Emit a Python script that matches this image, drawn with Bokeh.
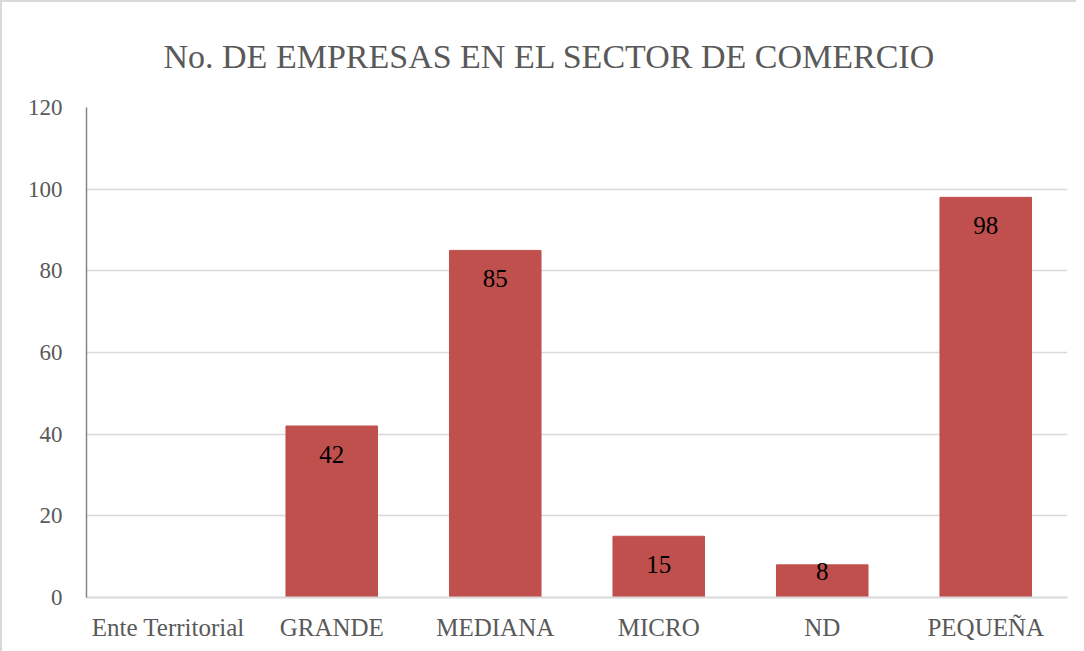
from bokeh.plotting import figure
from bokeh.models import ColumnDataSource, Range1d, FixedTicker, LabelSet
from bokeh.embed import file_html
from bokeh.resources import INLINE

categories = ["Ente Territorial", "GRANDE", "MEDIANA", "MICRO", "ND", "PEQUEÑA"]
values = [0, 42, 85, 15, 8, 98]
y_ticks = [0, 20, 40, 60, 80, 100, 120]
title_text = "No. DE EMPRESAS EN EL SECTOR DE COMERCIO"

FONT = "Liberation Serif"
frame_h = 490
px_per_unit = frame_h / 120.0

labels = [str(v) if v > 0 else "" for v in values]
offsets = [-28 if v * px_per_unit > 56 else -(v * px_per_unit - 26) for v in values]

src = ColumnDataSource(dict(cat=categories, val=values, lab=labels, off=offsets))

p = figure(x_range=categories, y_range=Range1d(0, 120),
           frame_width=981, frame_height=frame_h,
           output_backend="svg", toolbar_location=None,
           min_border_left=84, min_border_right=9, min_border_bottom=54,
           min_border_top=30)
p.styles = {"border-left": "2px solid #d9d9d9", "border-top": "2px solid #d9d9d9"}

p.title.text = title_text
p.title.align = "left"
p.title.offset = 77
p.title.text_font = FONT
p.title.text_font_size = "34px"
p.title.text_font_style = "normal"
p.title.text_color = "#595959"
p.title.standoff = 66

p.vbar(x="cat", top="val", width=0.56, source=src, color="#C0504D")

lbl = LabelSet(x="cat", y="val", text="lab", y_offset="off", source=src,
               text_align="center", text_baseline="middle",
               text_font=FONT, text_font_size="25px", text_color="#000000")
p.add_layout(lbl)

p.outline_line_color = None
p.xgrid.grid_line_color = None
p.ygrid.grid_line_color = "#d9d9d9"
p.ygrid.grid_line_width = 1.5

p.yaxis.ticker = FixedTicker(ticks=y_ticks)
p.yaxis.axis_line_color = "#868686"
p.yaxis.axis_line_width = 1.5
p.yaxis.major_tick_line_color = None
p.yaxis.minor_tick_line_color = None
p.yaxis.major_label_text_font = FONT
p.yaxis.major_label_text_font_size = "23px"
p.yaxis.major_label_text_color = "#595959"
p.yaxis.major_label_standoff = 18

p.xaxis.axis_line_color = "#d9d9d9"
p.xaxis.axis_line_width = 2
p.xaxis.major_tick_line_color = None
p.xaxis.minor_tick_line_color = None
p.xaxis.major_label_text_font = FONT
p.xaxis.major_label_text_font_size = "25px"
p.xaxis.major_label_text_color = "#595959"
p.xaxis.major_label_standoff = 10

open("out.html", "w").write(file_html(p, INLINE))
